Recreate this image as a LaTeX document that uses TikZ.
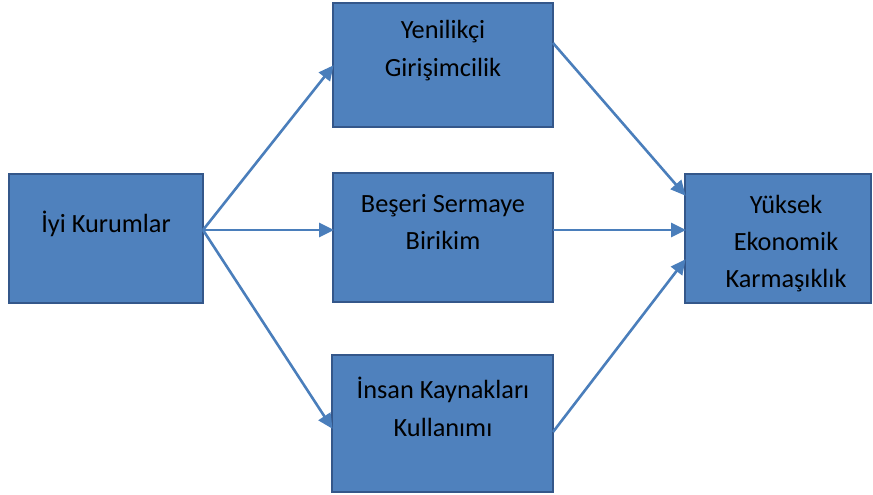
\documentclass[tikz,border=0pt]{standalone}
\usepackage{fontspec}
\setmainfont{Carlito}
\usetikzlibrary{arrows.meta,calc}
\definecolor{boxfill}{HTML}{4F81BD}
\definecolor{boxline}{HTML}{34578A}
\definecolor{arrcol}{HTML}{4A7EBB}
\tikzset{
  box/.style={draw=boxline, fill=boxfill, line width=2.4pt, inner sep=0pt, outer sep=0pt},
  lbl/.style={anchor=base, inner sep=0pt, text=black, font=\fontsize{26.3}{38}\selectfont},
  arr/.style={draw=arrcol, line width=2.6pt, -{Triangle[length=15pt,width=14pt]}, shorten >=-1pt}
}
\begin{document}
\begin{tikzpicture}[x=1pt,y=-1pt]
\useasboundingbox (0,0) rectangle (873,495);
% boxes
\node[box, minimum width=194pt, minimum height=129pt] (L) at (106,238.5) {};
\node[box, minimum width=220pt, minimum height=124pt] (T) at (443,65) {};
\node[box, minimum width=220pt, minimum height=129pt] (M) at (443,237.5) {};
\node[box, minimum width=221pt, minimum height=137pt] (B) at (442.5,423.5) {};
\node[box, minimum width=186pt, minimum height=129pt] (R) at (778,238.5) {};
% labels
\node[lbl] (Lt) at (106,232) {İyi Kurumlar};
\node[lbl] (Ta) at (443,39) {Yenilikçi};
\node[lbl] (Tb) at (443,77) {Girişimcilik};
\node[lbl] (Ma) at (443,212) {Beşeri Sermaye};
\node[lbl] (Mb) at (443,249) {Birikim};
\node[lbl] (Ba) at (443,398) {İnsan Kaynakları};
\node[lbl] (Bb) at (443,436) {Kullanımı};
\node[lbl] (Ra) at (786,213) {Yüksek};
\node[lbl] (Rb) at (786,250) {Ekonomik};
\node[lbl] (Rc) at (786,287) {Karmaşıklık};
% arrows
\draw[arr] (L.east |- 0,230) -- (T.west |- 0,66);
\draw[arr] (L.east |- 0,230) -- (M.west |- 0,230);
\draw[arr] (L.east |- 0,230) -- (B.west |- 0,428);
\draw[arr] (T.east |- 0,43) -- (R.west |- 0,195);
\draw[arr] (M.east |- 0,230) -- (R.west |- 0,230);
\draw[arr] (B.east |- 0,432) -- (R.west |- 0,260);
\end{tikzpicture}
\end{document}
